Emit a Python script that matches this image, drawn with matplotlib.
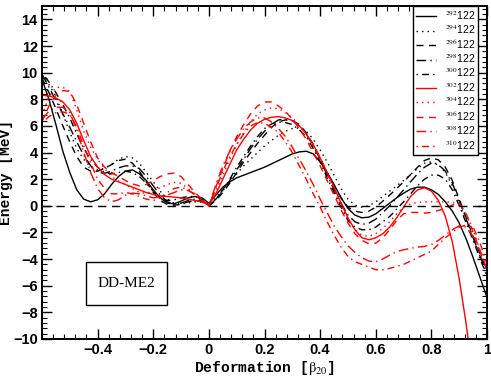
## Fission barriers of Z=122 isotopes, DD-ME2
import matplotlib
matplotlib.use("Agg")
import matplotlib.pyplot as plt
import numpy as np
from matplotlib.patches import Rectangle

plt.rcParams["mathtext.fontset"] = "stix"

# deformation grid (beta_20), step 0.025
beta = [-0.600, -0.575, -0.550, -0.525, -0.500, -0.475, -0.450, -0.425,
        -0.400, -0.375, -0.350, -0.325, -0.300, -0.275, -0.250, -0.225,
        -0.200, -0.175, -0.150, -0.125, -0.100, -0.075, -0.050, -0.025,
        0.000, 0.025, 0.050, 0.075, 0.100, 0.125, 0.150, 0.175,
        0.200, 0.225, 0.250, 0.275, 0.300, 0.325, 0.350, 0.375,
        0.400, 0.425, 0.450, 0.475, 0.500, 0.525, 0.550, 0.575,
        0.600, 0.625, 0.650, 0.675, 0.700, 0.725, 0.750, 0.775,
        0.800, 0.825, 0.850, 0.875, 0.900, 0.925, 0.950, 0.975, 1.000]

# energies in MeV
e292 = [9.5, 8.0, 6.1, 4.1, 2.5, 1.2, 0.5, 0.3,
        0.45, 0.9, 1.6, 2.2, 2.6, 2.7, 2.4, 1.9,
        1.2, 0.6, 0.2, 0.15, 0.35, 0.6, 0.7, 0.6,
        0.2, 0.8, 1.4, 1.8, 2.1, 2.3, 2.5, 2.7,
        2.9, 3.15, 3.4, 3.65, 3.9, 4.05, 4.1, 3.9,
        3.3, 2.5, 1.6, 0.6, -0.2, -0.7, -0.9, -0.85,
        -0.6, -0.2, 0.2, 0.6, 0.95, 1.25, 1.4, 1.4,
        1.2, 0.85, 0.3, -0.4, -1.3, -2.5, -3.9, -5.4, -6.9]
e294 = [9.8, 9.1, 8.2, 6.9, 5.5, 4.3, 3.5, 2.9,
        2.7, 2.8, 3.1, 3.5, 3.7, 3.6, 3.2, 2.5,
        1.8, 1.1, 0.5, 0.2, 0.15, 0.2, 0.3, 0.3,
        0.1, 0.6, 1.2, 1.8, 2.4, 3.0, 3.5, 4.0,
        4.5, 4.9, 5.3, 5.6, 5.8, 5.85, 5.6, 5.0,
        4.2, 3.3, 2.3, 1.3, 0.5, 0.05, -0.1, 0.0,
        0.3, 0.7, 1.1, 1.5, 1.9, 2.35, 2.8, 3.2,
        3.3, 3.1, 2.5, 1.5, 0.2, -1.2, -2.5, -3.7, -4.8]
e296 = [9.6, 8.5, 7.3, 6.0, 4.8, 3.7, 2.9, 2.6,
        2.6, 2.8, 3.1, 3.4, 3.5, 3.2, 2.6, 1.8,
        1.0, 0.4, 0.1, 0.05, 0.1, 0.3, 0.4, 0.3,
        0.0, 0.4, 1.0, 1.7, 2.5, 3.3, 4.0, 4.7,
        5.3, 5.9, 6.3, 6.45, 6.4, 6.1, 5.5, 4.6,
        3.6, 2.5, 1.5, 0.6, -0.1, -0.4, -0.5, -0.4,
        -0.1, 0.35, 0.8, 1.3, 1.8, 2.35, 2.9, 3.4,
        3.6, 3.45, 2.9, 1.9, 0.5, -0.9, -2.3, -3.6, -4.9]
e298 = [9.9, 8.9, 7.9, 6.9, 5.9, 4.8, 3.8, 3.0,
        2.5, 2.45, 2.6, 2.85, 3.0, 3.0, 2.8, 2.2,
        1.5, 0.8, 0.3, 0.15, 0.2, 0.4, 0.5, 0.4,
        0.0, 0.5, 1.1, 1.9, 2.7, 3.5, 4.3, 5.0,
        5.6, 6.1, 6.45, 6.5, 6.4, 6.0, 5.4, 4.5,
        3.5, 2.3, 1.2, 0.2, -0.7, -1.2, -1.4, -1.3,
        -1.0, -0.5, 0.0, 0.6, 1.2, 1.8, 2.4, 2.9,
        3.2, 3.1, 2.6, 1.7, 0.4, -1.0, -2.4, -3.8, -5.1]
e300 = [10.0, 9.3, 8.5, 7.6, 6.6, 5.4, 4.3, 3.5,
        2.9, 2.5, 2.4, 2.5, 2.6, 2.5, 2.2, 1.7,
        1.1, 0.6, 0.4, 0.45, 0.6, 0.7, 0.7, 0.5,
        0.0, 0.5, 1.2, 2.0, 2.9, 3.7, 4.5, 5.2,
        5.8, 6.15, 6.3, 6.25, 6.1, 5.7, 5.2, 4.3,
        3.3, 2.1, 1.0, -0.1, -1.1, -1.6, -1.8, -1.8,
        -1.6, -1.2, -0.8, -0.25, 0.3, 0.9, 1.5, 2.0,
        2.3, 2.3, 2.0, 1.2, 0.0, -1.3, -2.6, -4.0, -5.3]
e302 = [8.3, 8.25, 8.1, 7.8, 7.2, 6.2, 4.9, 3.7,
        2.9, 2.35, 2.0, 1.8, 1.6, 1.4, 1.2, 1.0,
        0.85, 0.75, 0.7, 0.65, 0.6, 0.5, 0.4, 0.3,
        0.1, 0.9, 2.0, 3.1, 4.2, 5.0, 5.7, 6.2,
        6.5, 6.65, 6.7, 6.6, 6.4, 6.0, 5.4, 4.6,
        3.6, 2.5, 1.4, 0.2, -0.9, -1.8, -2.4, -2.55,
        -2.4, -2.1, -1.6, -0.9, -0.1, 0.7, 1.2, 1.35,
        1.1, 0.4, -0.8, -2.7, -5.5, -8.9, -13.0, -17.5, -22.0]
e304 = [6.8, 8.2, 8.9, 8.9, 8.6, 7.2, 5.6, 4.4,
        3.5, 2.8, 2.2, 1.85, 1.6, 1.3, 1.0, 0.95,
        1.1, 1.35, 1.6, 1.75, 1.7, 1.3, 0.8, 0.4,
        0.0, 1.1, 2.3, 3.5, 4.6, 5.5, 6.3, 6.9,
        7.2, 7.35, 7.3, 7.0, 6.6, 6.1, 5.4, 4.5,
        3.5, 2.4, 1.2, 0.0, -1.0, -1.8, -2.2, -2.3,
        -2.1, -1.7, -1.2, -0.6, -0.1, 0.15, 0.25, 0.3,
        0.3, 0.3, 0.3, 0.25, 0.1, -0.6, -1.8, -3.4, -5.0]
e306 = [6.3, 7.5, 8.3, 8.65, 8.6, 7.6, 6.2, 4.8,
        3.6, 2.9, 2.5, 2.2, 1.9, 1.65, 1.5, 1.6,
        1.9, 2.2, 2.4, 2.45, 2.2, 1.6, 1.0, 0.5,
        0.0, 1.4, 2.8, 4.1, 5.2, 6.1, 6.9, 7.5,
        7.8, 7.8, 7.5, 7.1, 6.5, 5.8, 5.0, 4.0,
        3.0, 1.9, 0.8, -0.3, -1.3, -2.1, -2.6, -2.85,
        -2.8, -2.4, -1.8, -1.1, -0.6, -0.5, -0.5, -0.55,
        -0.5, -0.35, -0.2, 0.05, 0.2, -0.6, -2.0, -3.4, -4.8]
e308 = [6.5, 7.1, 7.4, 7.4, 7.0, 5.7, 4.0, 2.5,
        1.3, 0.6, 0.3, 0.45, 0.8, 0.95, 0.9, 0.75,
        0.6, 0.65, 0.8, 1.0, 1.2, 1.15, 0.9, 0.5,
        0.0, 1.6, 3.0, 4.1, 5.0, 5.8, 6.3, 6.6,
        6.6, 6.3, 5.8, 5.2, 4.4, 3.5, 2.6, 1.6,
        0.5, -0.5, -1.5, -2.3, -3.0, -3.5, -3.9, -4.15,
        -4.2, -4.0, -3.7, -3.45, -3.3, -3.2, -3.1, -3.05,
        -2.9, -2.6, -2.2, -1.8, -1.5, -1.6, -2.3, -3.4, -4.6]
e310 = [6.2, 6.7, 7.0, 7.05, 6.9, 5.9, 4.5, 3.2,
        2.0, 1.3, 0.9, 0.9, 1.0, 0.9, 0.7, 0.5,
        0.4, 0.6, 1.0, 1.3, 1.4, 1.2, 0.8, 0.4,
        0.0, 1.3, 2.6, 3.7, 4.6, 5.4, 6.0, 6.25,
        6.2, 5.9, 5.5, 4.8, 4.0, 3.0, 2.0, 0.9,
        -0.1, -1.2, -2.2, -3.1, -3.8, -4.2, -4.4, -4.6,
        -4.8, -4.8, -4.7, -4.55, -4.4, -4.15, -3.9, -3.65,
        -3.4, -2.9, -2.4, -2.0, -1.6, -1.45, -1.6, -2.8, -4.4]

masses = [292, 294, 296, 298, 300, 302, 304, 306, 308, 310]
energies = [e292, e294, e296, e298, e300, e302, e304, e306, e308, e310]
styles = ["-", (0, (1, 3)), (0, (5, 4)), (0, (7, 3, 1, 3)), (0, (1, 3, 5, 3)),
          "-", (0, (1, 3)), (0, (5, 4)), (0, (7, 3, 1, 3)), (0, (1, 3, 5, 3))]
colors = ["black"] * 5 + ["red"] * 5

fig = plt.figure(figsize=(4.91, 3.80), dpi=100)
ax = fig.add_axes([0.0855, 0.108, 0.9065, 0.876])

for m, e, ls, c in zip(masses, energies, styles, colors):
    ax.plot(beta, e, color=c, linestyle=ls, linewidth=1.0,
            label=r"$^{%d}$122" % m)

ax.axhline(0, color="black", linestyle=(0, (6, 4)), linewidth=1.0)

ax.set_xlim(-0.6, 1.0)
ax.set_ylim(-10, 15)
xt = [-0.4, -0.2, 0, 0.2, 0.4, 0.6, 0.8, 1.0]
ax.set_xticks(xt)
ax.set_xticklabels(["\u22120.4", "\u22120.2", "0", "0.2", "0.4", "0.6", "0.8", "1"])
yt = list(range(-10, 15, 2))
ax.set_yticks(yt)
ax.set_yticklabels([("\u2212%d" % -v) if v < 0 else str(v) for v in yt])
ax.set_xticks(np.arange(-0.6, 1.001, 0.04), minor=True)
ax.set_yticks(np.arange(-10, 15.01, 0.4), minor=True)
ax.tick_params(which="both", direction="in", top=True, right=True)
ax.tick_params(which="major", length=7, width=1.0, labelsize=10.5, pad=3)
ax.tick_params(which="minor", length=3.5, width=0.8)
for lab in ax.get_xticklabels() + ax.get_yticklabels():
    lab.set_fontweight("bold")
    lab.set_family("Liberation Sans")
for sp in ax.spines.values():
    sp.set_linewidth(1.4)

ax.set_xlabel(r"Deformation [$\mathrm{\beta_{20}}$]", family="Liberation Mono",
              fontweight="bold", fontsize=10.5, labelpad=1)
ax.set_ylabel("Energy [MeV]", family="Liberation Mono", fontweight="bold",
              fontsize=10.5, labelpad=0)

leg = ax.legend(loc="upper right", prop={"family": "Liberation Sans", "size": 7.5},
                handlelength=1.9, labelspacing=0.12, borderaxespad=0.0,
                borderpad=0.3, handletextpad=0.8, fancybox=False,
                framealpha=1, bbox_to_anchor=(0.98, 1.0))
leg.get_frame().set_edgecolor("black")
leg.get_frame().set_linewidth(1.0)

ax.add_patch(Rectangle((0.099, 0.102), 0.182, 0.129, transform=ax.transAxes,
                       fill=False, edgecolor="black", linewidth=1.0))
ax.text(0.19, 0.166, "DD-ME2", transform=ax.transAxes, ha="center",
        va="center", family="Liberation Serif", fontsize=11)

fig.savefig("out.png", dpi=100)
